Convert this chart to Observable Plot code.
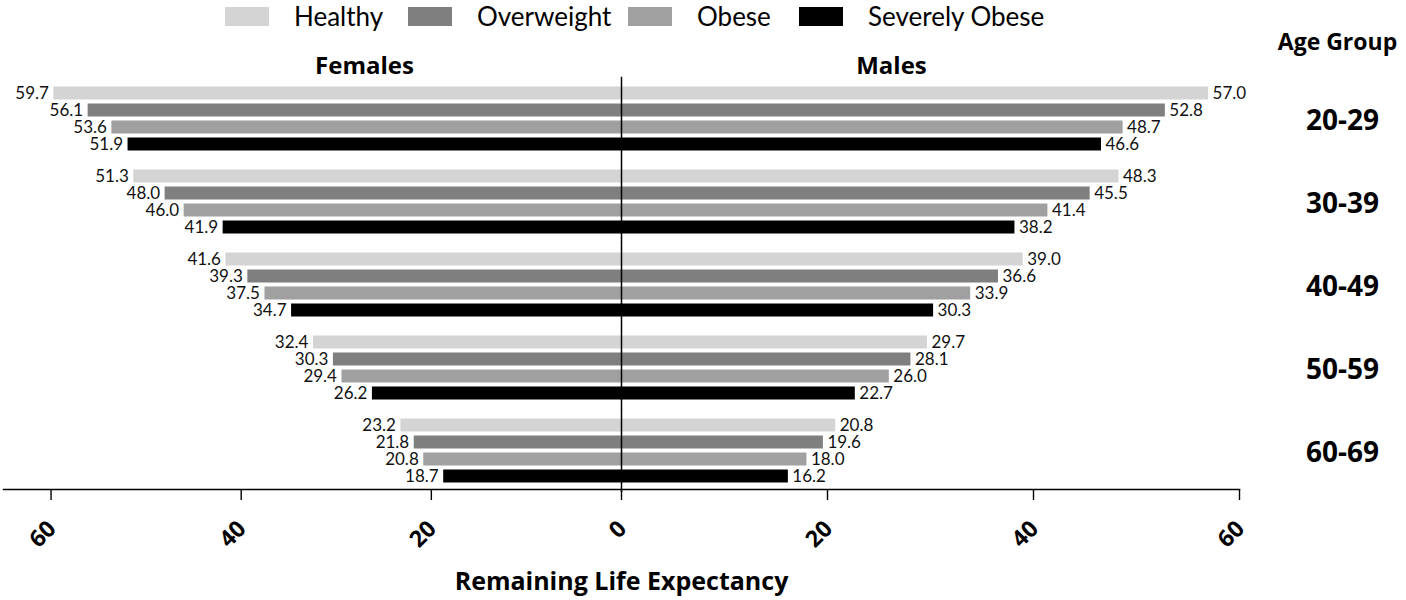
<!DOCTYPE html>
<html>
<head>
<meta charset="utf-8">
<script src="https://cdn.jsdelivr.net/npm/d3@7"></script>
<script src="https://cdn.jsdelivr.net/npm/@observablehq/plot@0.6"></script>
<style>
  html, body { margin: 0; padding: 0; background: #fff; }
  #wrap { position: relative; width: 1406px; height: 600px; font-family: Lato, sans-serif; }
  #legend { position: absolute; top: 0; left: 0; width: 1406px; height: 30px; }
  .item { position: absolute; top: 5px; height: 22px; display: flex; align-items: center; }
  .sw { width: 44px; height: 19px; display: inline-block; }
  .lab { margin-left: 25px; font-size: 26px; color: #000; line-height: 22px; white-space: nowrap; }
</style>
</head>
<body>
<div id="wrap"><div id="legend"></div></div>
<script>
const ageGroups = ["20-29", "30-39", "40-49", "50-59", "60-69"];
const categories = ["Healthy", "Overweight", "Obese", "Severely Obese"];
const colors = ["#d4d4d4", "#7f7f7f", "#a0a0a0", "#000000"];
const femaleValues = [
  [59.7, 56.1, 53.6, 51.9],
  [51.3, 48.0, 46.0, 41.9],
  [41.6, 39.3, 37.5, 34.7],
  [32.4, 30.3, 29.4, 26.2],
  [23.2, 21.8, 20.8, 18.7]
];
const maleValues = [
  [57.0, 52.8, 48.7, 46.6],
  [48.3, 45.5, 41.4, 38.2],
  [39.0, 36.6, 33.9, 30.3],
  [29.7, 28.1, 26.0, 22.7],
  [20.8, 19.6, 18.0, 16.2]
];
const xTicks = [-60, -40, -20, 0, 20, 40, 60];
const legendLefts = [225, 408, 628, 799];

const rows = ageGroups.flatMap((age, i) => categories.map((cat, j) => ({
  age, cat, female: femaleValues[i][j], male: maleValues[i][j]
})));
const lastGroup = ageGroups[ageGroups.length - 1];

const legend = document.getElementById("legend");
categories.forEach((c, i) => {
  const it = document.createElement("div");
  it.className = "item";
  it.style.left = legendLefts[i] + "px";
  it.innerHTML = `<span class="sw" style="background:${colors[i]}"></span><span class="lab">${c}</span>`;
  legend.appendChild(it);
});

const bold = {fontWeight: "bold", fill: "#000", textAnchor: "middle", lineAnchor: "middle"};
const titleFont = {fontFamily: "Open Sans"};

const chart = Plot.plot({
  width: 1406,
  height: 600,
  marginTop: 76.5,
  marginBottom: 111,
  marginLeft: 3,
  marginRight: 167,
  style: {fontFamily: "Lato", color: "#000", background: "transparent", overflow: "visible"},
  x: {type: "linear", domain: [-65, 0, 60], range: [3, 621, 1239], axis: null, label: null},
  y: {domain: categories, paddingInner: 0.23, paddingOuter: 0.313, axis: null},
  fy: {domain: ageGroups, paddingInner: 0.0716, paddingOuter: 0.0166, align: 1, axis: null},
  color: {domain: categories, range: colors},
  marks: [
    Plot.barX(rows, {fy: "age", y: "cat", x1: 0, x2: d => -d.female, fill: "cat"}),
    Plot.barX(rows, {fy: "age", y: "cat", x1: 0, x2: "male", fill: "cat"}),
    Plot.text(rows, {fy: "age", y: "cat", x: d => -d.female, text: d => d.female.toFixed(1),
      textAnchor: "end", dx: -5, fontSize: 17, fill: "#111"}),
    Plot.text(rows, {fy: "age", y: "cat", x: "male", text: d => d.male.toFixed(1),
      textAnchor: "start", dx: 4, fontSize: 17, fill: "#111"}),
    Plot.ruleX(ageGroups, {fy: d => d, x: () => 0, insetTop: -3.2, insetBottom: -3.2, stroke: "#000", strokeWidth: 1.5}),
    Plot.axisX(xTicks, {tickSize: 11, tickFormat: () => "", label: null, strokeWidth: 1.4, stroke: "#000"}),
    Plot.frame({anchor: "bottom", facet: "super", stroke: "#000", strokeWidth: 1.5}),
    Plot.text(xTicks, {fy: () => lastGroup, x: d => d, text: d => String(Math.abs(d)),
      frameAnchor: "bottom", dy: 35.5, dx: 1, rotate: -45, fontSize: 23, ...bold, ...titleFont, textAnchor: "end"}),
    Plot.text(["Remaining Life Expectancy"], {facet: "super", frameAnchor: "bottom", dy: 92, fontSize: 25, ...bold, ...titleFont}),
    Plot.text(["Females"], {facet: "super", frameAnchor: "top-left", dx: 361, dy: -14.5, fontSize: 24, ...bold, ...titleFont}),
    Plot.text(["Males"], {facet: "super", frameAnchor: "top-left", dx: 888, dy: -14.5, fontSize: 24, ...bold, ...titleFont}),
    Plot.text(["Age Group"], {facet: "super", frameAnchor: "top-right", dx: 98, dy: -37.5, fontSize: 23, ...bold, ...titleFont}),
    Plot.text(ageGroups, {fy: d => d, text: d => d, frameAnchor: "right", dx: 103, dy: 2, fontSize: 28, ...bold, ...titleFont})
  ]
});
document.getElementById("wrap").insertBefore(chart, legend);
</script>
</body>
</html>
